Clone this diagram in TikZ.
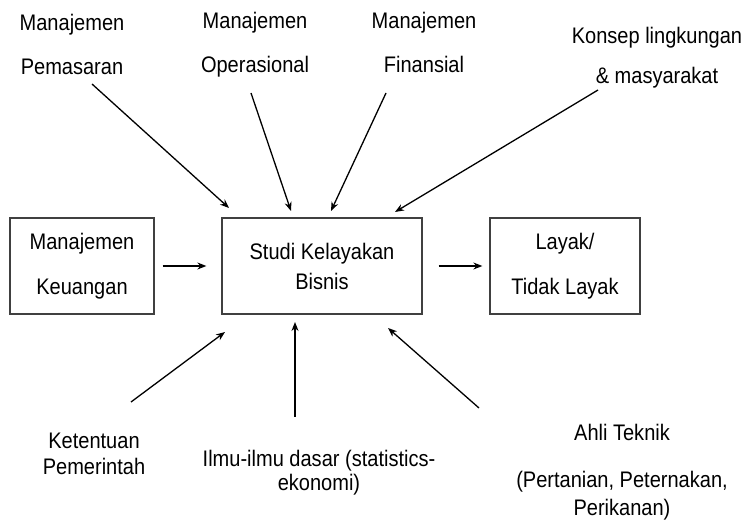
\documentclass[tikz,border=0pt]{standalone}
\usepackage{fontspec}
\setmainfont{Liberation Sans}[FakeStretch=0.89]
\usetikzlibrary{arrows.meta}
\begin{document}
\begin{tikzpicture}[x=1pt,y=1pt,
  lbl/.style={align=center,inner sep=0pt,font=\fontsize{22.5}{27}\selectfont},
  box/.style={draw=black!75,line width=1.3pt,align=center,inner sep=0pt,font=\fontsize{22.5}{27}\selectfont},
  arr/.style={line width=1.3pt,-{Stealth[length=9pt,width=7pt]}}]
\useasboundingbox (0,0) rectangle (747,-526);
% boxes
\node[box,minimum width=144pt,minimum height=96pt] (kb) at (82,-266) {Manajemen\\[18pt]Keuangan};
\node[box,minimum width=200pt,minimum height=96pt] (skb) at (322,-266) {Studi Kelayakan\\[3pt]Bisnis};
\node[box,minimum width=150pt,minimum height=96pt] (lt) at (565,-266) {Layak/\\[18pt]Tidak Layak};
% top labels
\node[lbl] (mp) at (72,-44.5) {Manajemen\\[17pt]Pemasaran};
\node[lbl] (mo) at (255,-44.5) {Manajemen\\[17pt]Operasional};
\node[lbl] (mf) at (424,-42) {Manajemen\\[17pt]Finansial};
\node[lbl] (kl) at (657,-58) {Konsep lingkungan\\[13pt]\& masyarakat};
% bottom labels
\node[lbl] (kp) at (94,-454) {Ketentuan\\[-1pt]Pemerintah};
\node[lbl] (il) at (319,-473) {Ilmu-ilmu dasar (statistics-\\[-3pt]ekonomi)};
\node[lbl] (at) at (622,-472) {Ahli Teknik\\[20pt](Pertanian, Peternakan,\\[1pt]Perikanan)};
% arrow ends
\coordinate (a1s) at (92,-84);   \coordinate (a1e) at (229,-208);
\coordinate (a2s) at (251,-93);  \coordinate (a2e) at (291,-211);
\coordinate (a3s) at (386,-93);  \coordinate (a3e) at (331,-211);
\coordinate (a4s) at (598,-90);  \coordinate (a4e) at (395,-212);
\coordinate (b1s) at (131,-402); \coordinate (b1e) at (225,-332);
\coordinate (b2s) at (295,-417); \coordinate (b2e) at (295,-322);
\coordinate (b3s) at (479,-408); \coordinate (b3e) at (388,-328);
\draw[arr] (a1s) -- (a1e);
\draw[arr] (a2s) -- (a2e);
\draw[arr] (a3s) -- (a3e);
\draw[arr] (a4s) -- (a4e);
\draw[arr] (b1s) -- (b1e);
\draw[arr] (b2s) -- (b2e);
\draw[arr] (b3s) -- (b3e);
\draw[arr,shorten <=8pt,shorten >=15pt] (kb) -- (skb);
\draw[arr,shorten <=16pt,shorten >=7pt] (skb) -- (lt);
\end{tikzpicture}
\end{document}
